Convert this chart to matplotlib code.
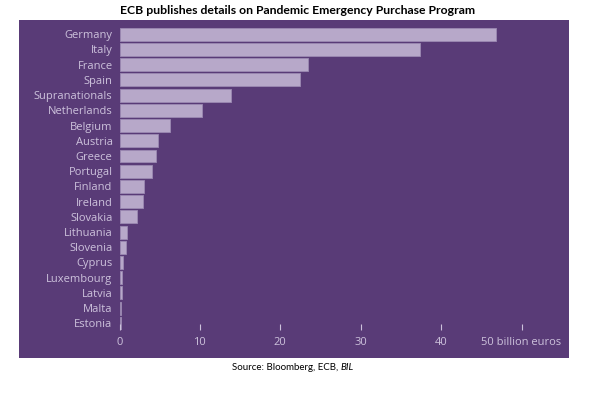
import matplotlib.pyplot as plt
from matplotlib.patches import Rectangle

countries = ["Germany", "Italy", "France", "Spain", "Supranationals", "Netherlands",
             "Belgium", "Austria", "Greece", "Portugal", "Finland", "Ireland",
             "Slovakia", "Lithuania", "Slovenia", "Cyprus", "Luxembourg", "Latvia",
             "Malta", "Estonia"]
values = [46.8, 37.4, 23.5, 22.4, 13.9, 10.25, 6.3, 4.75, 4.55, 4.0, 3.1, 2.9,
          2.2, 0.95, 0.85, 0.45, 0.35, 0.35, 0.15, 0.15]
ticks = [0, 10, 20, 30, 40, 50]
tick_labels = ["0", "10", "20", "30", "40", "50 billion euros"]

bg = "#593b77"
bar_col = "#b7a8c9"
txt = "#cdc2dc"

W, H = 595, 393
fig = plt.figure(figsize=(W / 100, H / 100), dpi=100)
fig.patch.set_facecolor("white")

# purple panel
fig.add_artist(Rectangle((19 / W, 1 - 358 / H), 550 / W, 338 / H,
                         transform=fig.transFigure, facecolor=bg, edgecolor="none", zorder=0))

top_px, bot_px = 20, 330
ax = fig.add_axes([119.5 / W, 1 - bot_px / H, (569 - 119.5) / W, (bot_px - top_px) / H])
ax.patch.set_alpha(0)

n = len(countries)
pos = list(range(n))
ax.barh(pos, values, height=0.85, color=bar_col, edgecolor="#9c8ab3", linewidth=0.6)

ax.set_xlim(0, (569 - 119.5) / 8.04)
ax.set_ylim(n - 1 + (bot_px - 323) / 16, -(35 - top_px) / 16)

ax.set_yticks(pos)
ax.set_yticklabels(countries)
ax.set_xticks(ticks)
ax.set_xticklabels(tick_labels)
ax.tick_params(axis="y", length=0, pad=5, labelsize=8, labelcolor=txt)
ax.tick_params(axis="x", direction="in", length=4, width=0.8, color=txt,
               pad=5, labelsize=8, labelcolor=txt)
for lab in ax.get_yticklabels() + ax.get_xticklabels():
    lab.set_family("Open Sans")
for s in ax.spines.values():
    s.set_visible(False)

fig.text(0.5, 1 - 10 / H, "ECB publishes details on Pandemic Emergency Purchase Program",
         ha="center", va="center", fontsize=8.8, fontweight="bold", family="Lato")
src = fig.text(232 / W, 1 - 367 / H, "Source: Bloomberg, ECB, ", ha="left", va="center",
               fontsize=7, family="Lato", fontweight="normal")
ann = plt.annotate("BIL", xy=(1, 0.5), xycoords=src, ha="left", va="center",
                   fontsize=7, family="Lato", style="italic", annotation_clip=False)

fig.savefig("out.png", dpi=100)
